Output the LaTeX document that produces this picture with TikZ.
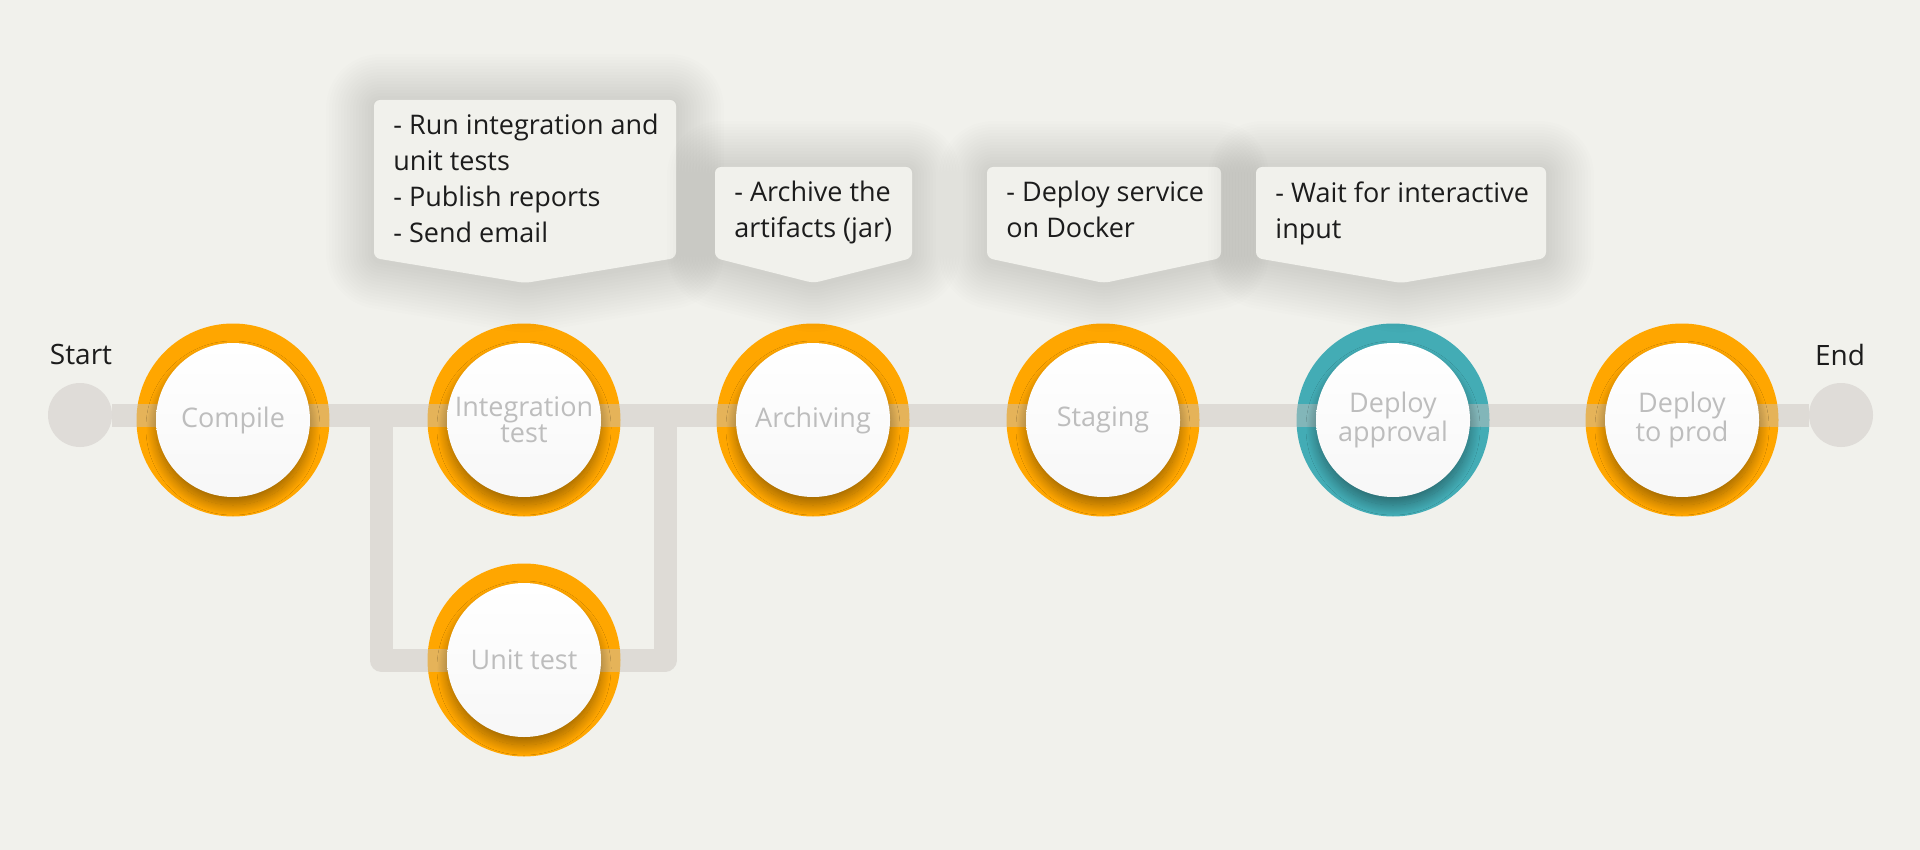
\documentclass[tikz,border=0pt]{standalone}
\usepackage{fontspec}
\setmainfont{Open Sans}
\usetikzlibrary{shadows.blur}
\definecolor{paper}{HTML}{F1F1EC}
\definecolor{railgray}{HTML}{C9C3BF}
\definecolor{dotgray}{HTML}{DFDCD8}
\definecolor{amber}{HTML}{FFA600}
\definecolor{lagoon}{HTML}{43ACB5}
\definecolor{stagegray}{HTML}{BDBDBD}
\definecolor{ink}{HTML}{1C1C1C}

\begin{document}
\begin{tikzpicture}[x=0.5pt,y=-0.5pt]
\tikzstyle{ring}=[circle, inner sep=0pt, minimum size=96.5pt, fill=amber]
\tikzstyle{face}=[circle, inner sep=0pt, minimum size=77pt, align=center,
  top color=white, bottom color=white!97!black, text=stagegray,
  font=\fontsize{13.5}{11}\selectfont,
  blur shadow={shadow xshift=0pt, shadow yshift=-4pt, shadow blur radius=5pt,
    shadow blur steps=30, shadow opacity=38}]
\tikzstyle{dot}=[circle, inner sep=0pt, minimum size=32pt, fill=dotgray]
\tikzstyle{rail}=[line width=11.5pt, draw=railgray, draw opacity=0.47, line join=round]
\tikzstyle{halo}=[draw=black, draw opacity=0.008, line join=round, rounded corners=3pt]
\tikzstyle{note}=[fill=paper, rounded corners=3pt]
\tikzstyle{notetext}=[anchor=north west, inner sep=0pt, align=left, text=ink,
  font=\fontsize{13.5}{18}\selectfont]
\tikzstyle{endlabel}=[anchor=base, text=ink, font=\fontsize{14}{16}\selectfont]

\fill[paper] (0,0) rectangle (1920,850);
\useasboundingbox (0,0) rectangle (1920,850);

\foreach \cx/\cy/\nm/\col in {233/420/compile/amber, 524/420/integ/amber,
  524/660/unit/amber, 813/420/arch/amber, 1103/420/stag/amber,
  1393/420/appr/lagoon, 1682/420/prod/amber}
  \node[ring, fill=\col] (r-\nm) at (\cx,\cy) {};

\node[dot] (start) at (80,415) {};
\node[dot] (finish) at (1841,415) {};
\coordinate (fork) at (381,415);
\coordinate (merge) at (665,415);
\draw[rail] (start) -- (finish) (fork) |- (r-unit.center) -| (merge);

\foreach \nm/\lbl in {compile/Compile, integ/{Integration\\test}, unit/Unit test,
  arch/Archiving, stag/Staging, appr/{Deploy\\approval}, prod/{Deploy\\to prod}}
  \node[face] (\nm) at (r-\nm.center) {\lbl};

\foreach \l/\r/\t/\nm/\txt in {
  374/676/100/integ/{- Run integration and\\unit tests\\- Publish reports\\- Send email},
  715/912/167/arch/{- Archive the\\artifacts (jar)},
  987/1221/167/stag/{- Deploy service\\on Docker},
  1256/1546/167/appr/{- Wait for interactive\\input}}
{
  \foreach \w in {3,6,...,48}
    \draw[halo, line width=\w pt, yshift=-1pt]
      (\l,\t) -- (\r,\t) -- (\r,258) -- ({(\l+\r)/2},283) -- (\l,258) -- cycle;
  \path[note] (\l,\t) -- (\r,\t) -- (\r,258) -- ({(\l+\r)/2},283) -- (\l,258) -- cycle;
  \node[notetext] (n-\nm) at (\l+19,\t+14) {\txt};
}

\node[endlabel] (start-lbl) at (81,364) {Start};
\node[endlabel] (end-lbl) at (1840,365) {End};
\end{tikzpicture}
\end{document}
